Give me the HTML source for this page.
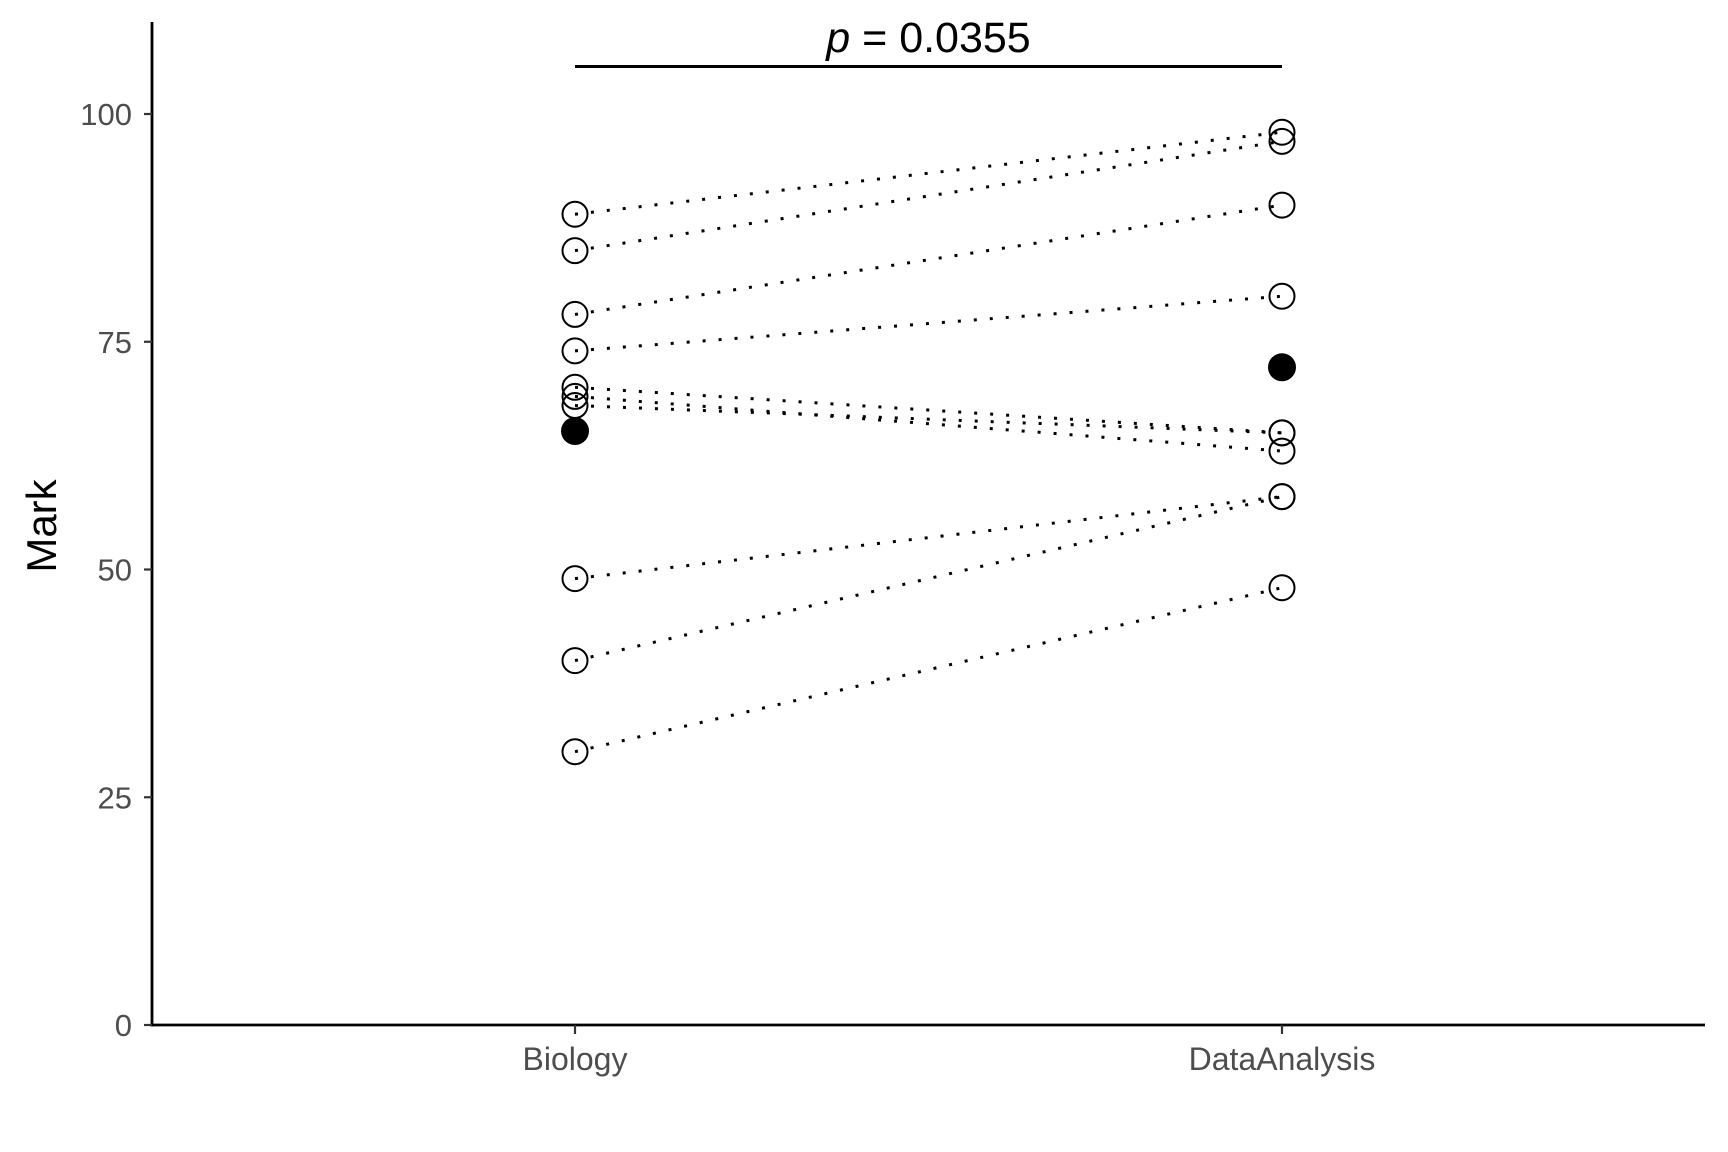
<!DOCTYPE html>
<html><head><meta charset="utf-8"><style>
html,body{margin:0;padding:0;background:#fff;}
svg{display:block;font-family:"Liberation Sans",Arial,sans-serif;}
</style></head><body>
<svg id="chart" width="1728" height="1152" viewBox="0 0 1728 1152"></svg>
<script>
const categories = ["Biology", "DataAnalysis"];
const biologyMarks = [89, 85, 78, 74, 70, 69, 68, 49, 40, 30];
const dataAnalysisMarks = [98, 97, 90, 80, 65, 63, 65, 58, 58, 48];
const groupMeans = [65.2, 72.2];
const yTicks = [0, 25, 50, 75, 100];
const pLabel = "0.0355";

const NS = "http://www.w3.org/2000/svg";
const svg = document.getElementById("chart");
const x0 = 152, x1 = 1705, yBase = 1025, yTop = 22;
function xScale(i){ return 575 + i * 707; }
function yScale(v){ return 1025 - v * 9.11; }
function mk(tag, attrs, parent){
  const e = document.createElementNS(NS, tag);
  for (const k in attrs) e.setAttribute(k, attrs[k]);
  (parent || svg).appendChild(e);
  return e;
}

biologyMarks.forEach((b, i) => {
  const l = mk("line", {x1: xScale(0), y1: yScale(b), x2: xScale(1), y2: yScale(dataAnalysisMarks[i]),
    stroke: "#000", "stroke-width": 3, "stroke-dasharray": "3 13"});
  
  
});
[biologyMarks, dataAnalysisMarks].forEach((arr, g) => {
  arr.forEach(v => {
    const c = mk("circle", {cx: xScale(g), cy: yScale(v), r: 12.5, fill: "none", stroke: "#000", "stroke-width": 2});
    
    
  });
});
groupMeans.forEach((m, g) => {
  const c = mk("circle", {cx: xScale(g), cy: yScale(m), r: 14, fill: "#000"});
  
  
});

const ya = mk("line", {x1: x0, y1: yTop, x2: x0, y2: yBase + 1.5, stroke: "#000", "stroke-width": 2.8});


const xa = mk("line", {x1: x0 - 1.4, y1: yBase, x2: x1, y2: yBase, stroke: "#000", "stroke-width": 2.8});



yTicks.forEach(t => {
  const tk = mk("line", {x1: x0 - 8, y1: yScale(t), x2: x0, y2: yScale(t), stroke: "#333", "stroke-width": 2.2});
  
  
  const tx = mk("text", {x: x0 - 20, y: yScale(t) + 11, "text-anchor": "end", "font-size": 31, fill: "#4d4d4d"});
  tx.textContent = t;
  
  
});
categories.forEach((c, i) => {
  const tk = mk("line", {x1: xScale(i), y1: yBase, x2: xScale(i), y2: yBase + 9, stroke: "#333", "stroke-width": 2.2});
  
  
  const tx = mk("text", {x: xScale(i), y: 1070, "text-anchor": "middle", "font-size": 32, fill: "#4d4d4d"});
  tx.textContent = c;
  
  
});

const yt = mk("text", {x: 0, y: 0, transform: "translate(56,526) rotate(-90)", "text-anchor": "middle", "font-size": 42, fill: "#000"});
yt.textContent = "Mark";



const pb = mk("line", {x1: xScale(0), y1: 66.5, x2: xScale(1), y2: 66.5, stroke: "#000", "stroke-width": 3});


const pt = mk("text", {x: (xScale(0) + xScale(1)) / 2, y: 52, "text-anchor": "middle", "font-size": 43, fill: "#000"});


const it = mk("tspan", {"font-style": "italic"}, pt); it.textContent = "p";
const rt = mk("tspan", {}, pt); rt.textContent = " = " + pLabel;
</script>
</body></html>
